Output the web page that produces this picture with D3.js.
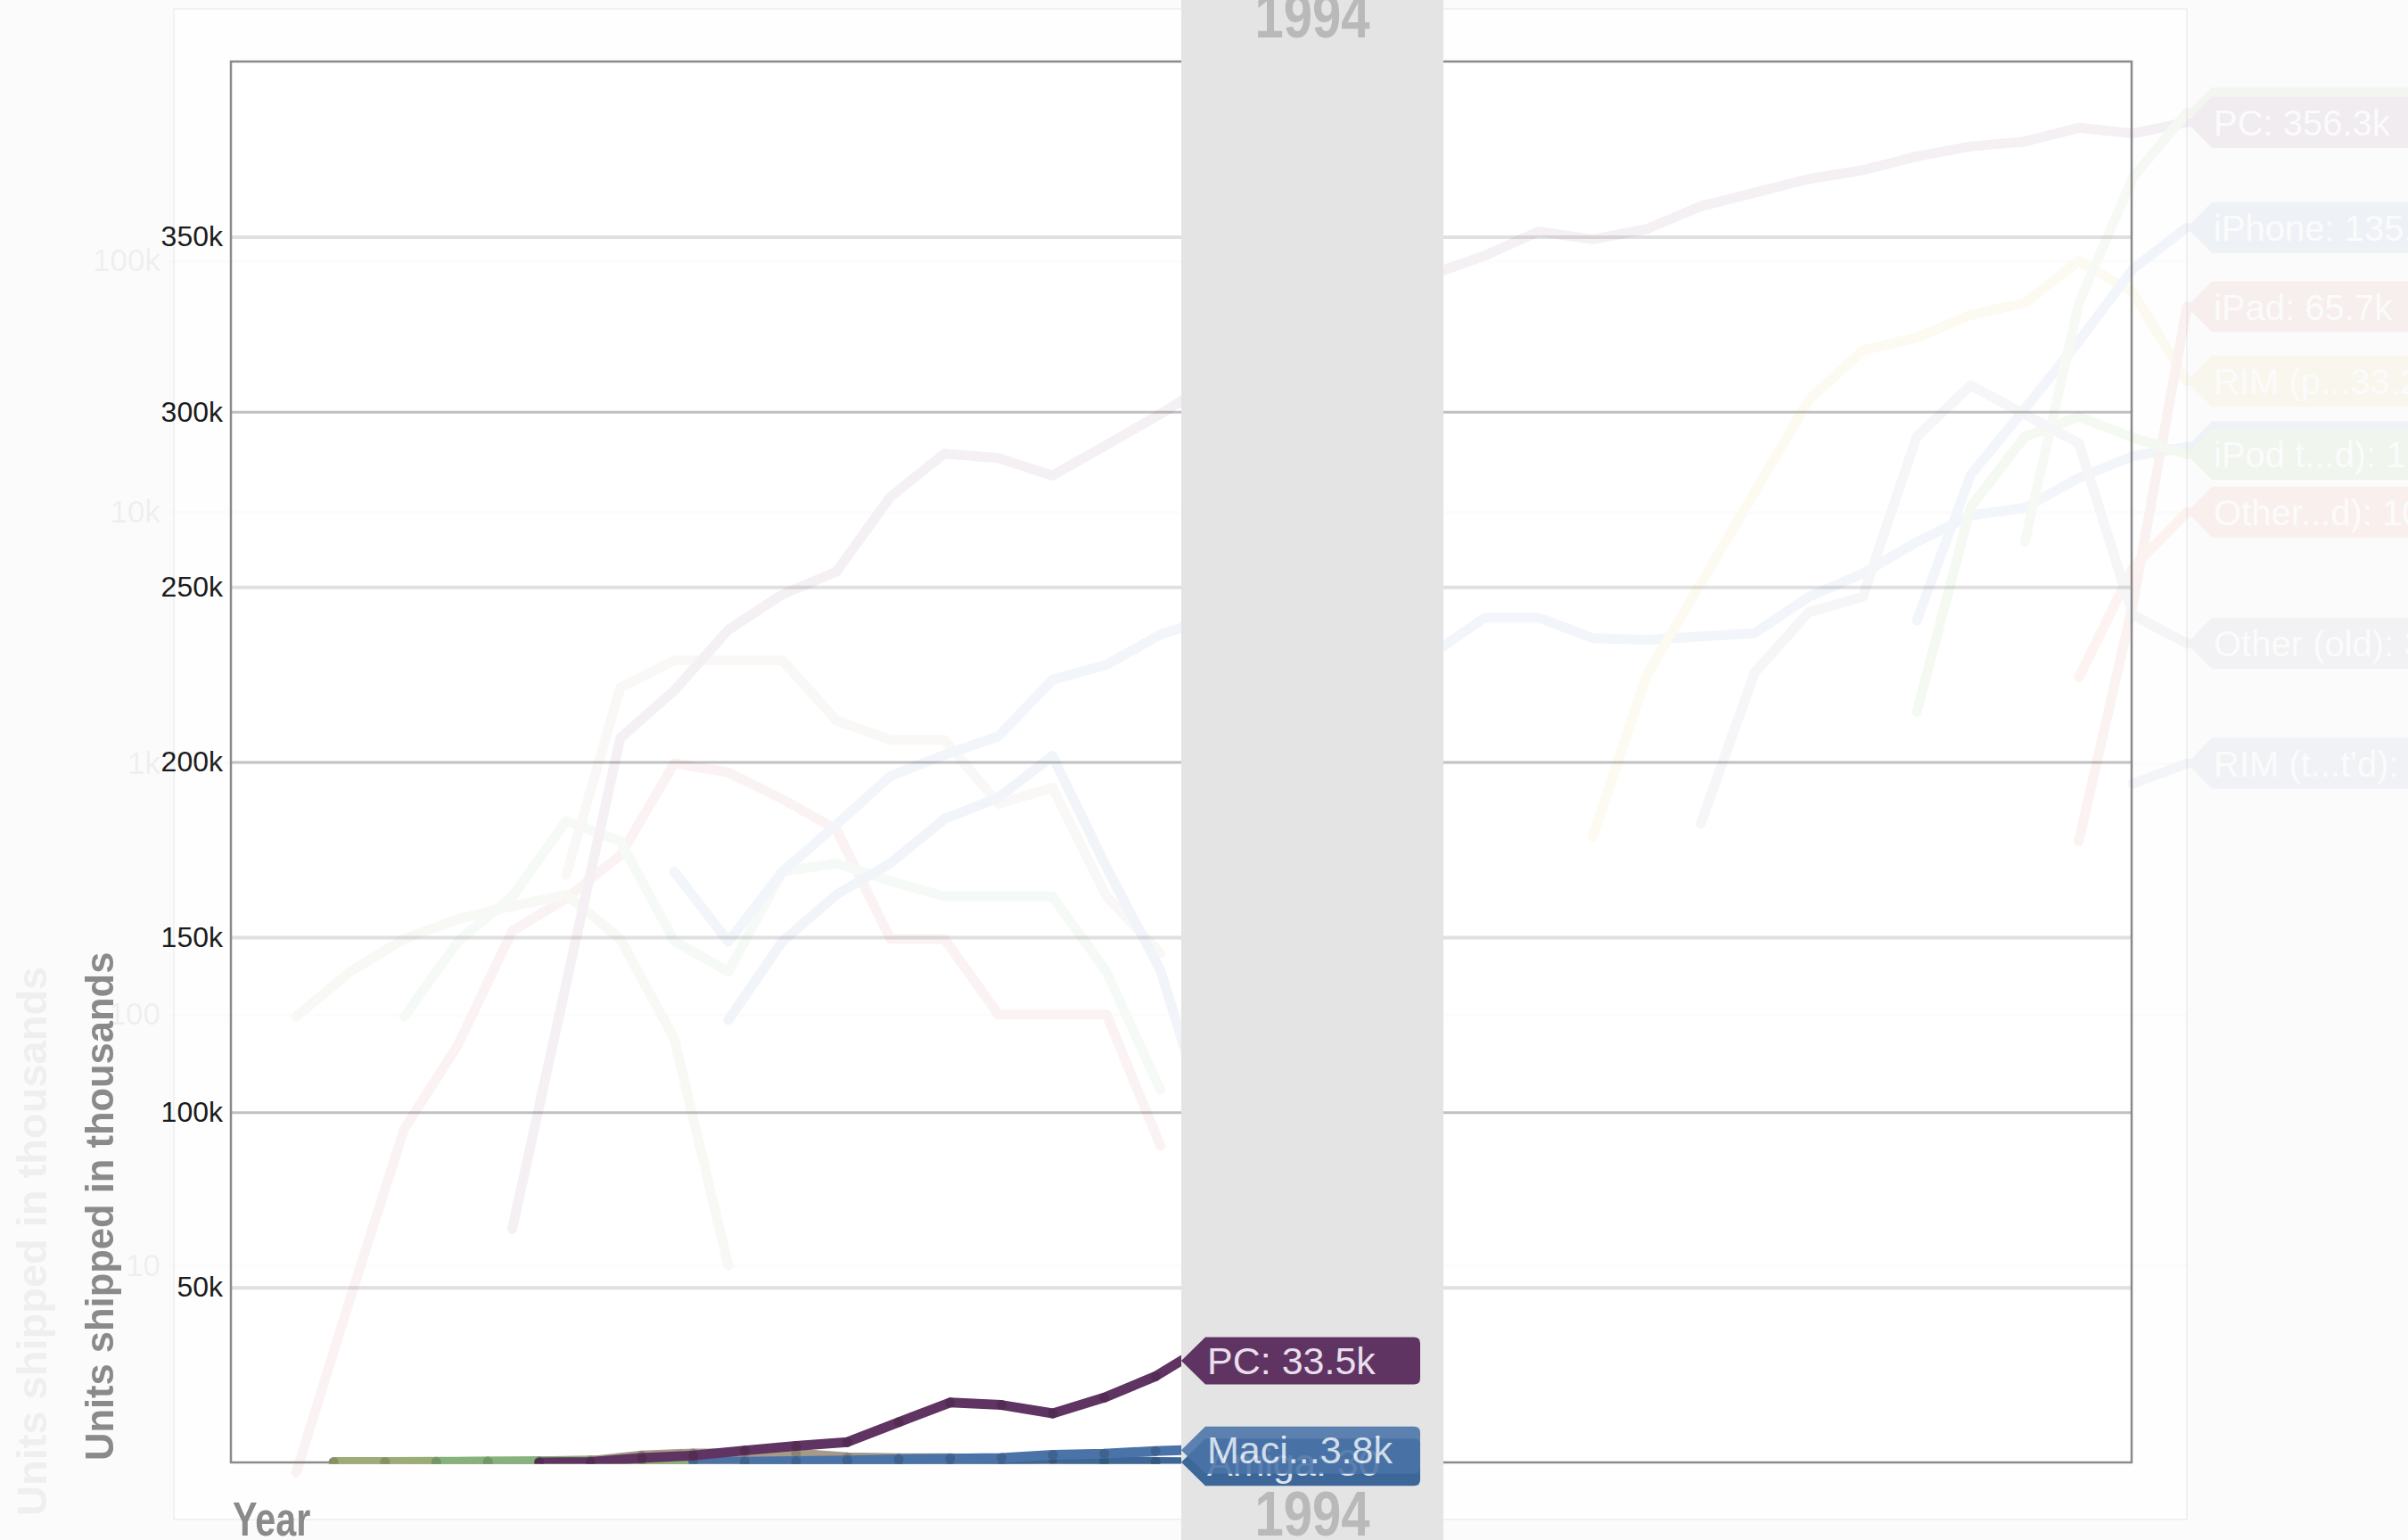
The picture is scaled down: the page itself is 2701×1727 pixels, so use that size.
<!DOCTYPE html>
<html>
<head>
<meta charset="utf-8">
<script src="https://cdn.jsdelivr.net/npm/d3@7"></script>
<style>
  html, body { margin: 0; padding: 0; background: #fbfbfb; }
  svg { display: block; }
  text { font-family: "Liberation Sans", Arial, Helvetica, sans-serif; }
</style>
</head>
<body>
<svg id="chart" width="2701" height="1727"></svg>
<script>
// ---------------- DATA (units shipped, thousands) ----------------
const years = [1975,1976,1977,1978,1979,1980,1981,1982,1983,1984,1985,1986,1987,1988,1989,1990,1991,1992,1993,1994,
               1995,1996,1997,1998,1999,2000,2001,2002,2003,2004,2005,2006,2007,2008,2009,2010,2011,2012];

const seriesNames = ["Apple II","TRS-80","Atari","Commodore 64","Amiga","Macintosh","PC",
                     "RIM (phones)","iPhone","iPad","iPod touch (est'd)","Android","Other (est'd)","Other (old)","RIM (tablets, est'd)"];
const startYears  = [1977,1977,1979,1982,1985,1984,1981,2001,2007,2010,2007,2009,2010,2003,2011];

const appleIIUnits   = [1.5, 7.4, 35, 76, 215, 290, 430, 1000, 920, 720, 545, 200, 200, 100, 100, 100, 30];
const trs80Units     = [98, 148, 200, 240, 270, 300, 200, 80, 10];
const atariUnits     = [98, 196, 295, 590, 490, 196, 148, 370, 400, 340, 295, 295, 295, 148, 50];
const c64Units       = [360, 2000, 2570, 2570, 2570, 1480, 1240, 1240, 690, 800, 295, 175];
const amigaUnits     = [95, 195, 300, 400, 600, 730, 1070, 385, 150, 30];
const macUnits       = [370, 195, 370, 570, 890, 1080, 1280, 2150, 2470, 3260, 3800, 4500, 4000, 2800, 2700,
                        3800, 3800, 3150, 3100, 3200, 3300, 4600, 5700, 7600, 9700, 10400, 13700, 16700, 18200];
const pcUnits        = [14, 133, 1260, 1950, 3400, 4700, 5800, 11500, 17100, 16400, 14000, 18500, 24600, 33500,
                        46000, 58000, 72000, 88000, 105000, 131000, 122000, 134000, 165000, 187000, 212000,
                        230000, 261000, 286000, 299000, 339000, 322000, 356300];
const rimPhoneUnits  = [510, 2240, 5200, 12000, 28000, 44000, 49500, 61000, 68000, 100000, 75000, 33200];
const iphoneUnits    = [3700, 14100, 25800, 48000, 93000, 135800];
const ipadUnits      = [490, 4300, 65700];
const ipodTouchUnits = [1600, 10500, 20000, 24000, 19800, 17000];
const androidUnits   = [7600, 68000, 215000, 390000];
const otherEstUnits  = [2200, 6000, 10000];
const otherOldUnits  = [575, 2300, 4000, 4600, 20000, 32000, 24500, 18800, 3900, 3000];
const rimTabletUnits = [830, 1000];

const mainTicks  = [50000, 100000, 150000, 200000, 250000, 300000, 350000];
const ghostTicks = [10, 100, 1000, 10000, 100000];
const currentYear = 1993.5;   // animation position of the frame
const labelYear = 1994;       // year shown in the band

// ---------------- STYLES ----------------
const seriesColors = ["#c45a55","#9aad77","#86b27d","#a69a88","#3d6699","#4a73a8","#603462",
                      "#e3b341","#4f7fb5","#c8504c","#5fa84f","#8cb86a","#d9604a","#7a6c88","#6b86ad"];
const mainOrder = ["Apple II","TRS-80","Atari","Commodore 64","Amiga","Macintosh","PC"];

const valueArrays = [appleIIUnits, trs80Units, atariUnits, c64Units, amigaUnits, macUnits, pcUnits,
                     rimPhoneUnits, iphoneUnits, ipadUnits, ipodTouchUnits, androidUnits, otherEstUnits, otherOldUnits, rimTabletUnits];

const series = seriesNames.map((name, i) => {
  const s0 = years.indexOf(startYears[i]);
  return {
    name, color: seriesColors[i],
    points: valueArrays[i].map((v, j) => ({ year: years[s0 + j], value: v }))
  };
});
const byName = new Map(series.map(s => [s.name, s]));
const valueAt = (s, yr) => { const p = s.points.find(d => d.year === yr); return p ? p.value : null; };
const fmt = d3.format(".4~s");

// ---------------- LAYOUT ----------------
const W = 2701, H = 1727;
const plot = { left: 259, right: 2391, top: 69, bottom: 1640 };
const svg = d3.select("#chart");

const xMain = d3.scaleLinear().domain([years[0], years[years.length - 1]]).range([plot.left, plot.right]);
const yMain = d3.scaleLinear().domain([0, 400000]).range([plot.bottom, plot.top]);

// ghost (previous, log-scale state of the animation, fading out)
const xGhost = d3.scaleLinear().domain([years[0], years[years.length - 1]]).range([211, 2453]);
const yGhost = d3.scaleLog().domain([1, 1e6]).range([1701, 11]);

svg.append("rect").attr("width", W).attr("height", H).attr("fill", "#fbfbfb");
svg.append("rect").attr("x", 195).attr("y", 10).attr("width", 2453 - 195).attr("height", 1704 - 10)
  .attr("fill", "#fefefe").attr("stroke", "#f1f1f1").attr("stroke-width", 2);
svg.append("rect").attr("x", plot.left).attr("y", plot.top)
  .attr("width", plot.right - plot.left).attr("height", plot.bottom - plot.top).attr("fill", "#ffffff");

// main gridlines + tick labels
const yAxis = svg.append("g").attr("transform", `translate(${plot.left},0)`)
  .call(d3.axisLeft(yMain).tickValues(mainTicks).tickFormat(d3.format("~s"))
        .tickSize(-(plot.right - plot.left)).tickPadding(9));
yAxis.select(".domain").remove();
yAxis.selectAll(".tick line")
  .attr("stroke", d => d % 100000 === 0 ? "#c0c0c0" : "#e0e0e0")
  .attr("stroke-width", d => d % 100000 === 0 ? 3 : 4);
yAxis.selectAll(".tick text").attr("font-size", 32).attr("fill", "#1c1c1c")
  .attr("font-family", "'Liberation Sans', Arial, sans-serif");

// ---------------- GHOST LAYER ----------------
const ghost = svg.append("g").attr("opacity", 0.072);
const gAxis = ghost.append("g").attr("transform", "translate(190,0)")
  .call(d3.axisLeft(yGhost).tickValues(ghostTicks).tickFormat(d3.format("~s"))
        .tickSize(-(2453 - 190)).tickPadding(10));
gAxis.select(".domain").remove();
gAxis.selectAll(".tick line").attr("stroke", "#cfcfcf").attr("stroke-width", 3);
gAxis.selectAll(".tick text").attr("font-size", 35).attr("fill", "#555")
  .attr("font-family", "'Liberation Sans', Arial, sans-serif");
ghost.append("text").attr("transform", "translate(52,1700) rotate(-90)")
  .attr("font-size", 47).attr("font-weight", "bold").attr("fill", "#555")
  .text("Units shipped in thousands");

const ghostLine = d3.line().x(d => xGhost(d.year)).y(d => yGhost(d.value));
ghost.selectAll("path.gl").data(series).join("path").attr("class", "gl")
  .attr("d", s => ghostLine(s.points))
  .attr("fill", "none").attr("stroke", s => s.color).attr("stroke-width", 11)
  .attr("stroke-linejoin", "round").attr("stroke-linecap", "round");

function labelPath(x0, y, aw, bw, h, r) {
  const t = y - h / 2, b = y + h / 2, xb = x0 + aw, xr = xb + bw;
  return `M${x0},${y}L${xb},${t}L${xr - r},${t}Q${xr},${t} ${xr},${t + r}L${xr},${b - r}Q${xr},${b} ${xr - r},${b}L${xb},${b}Z`;
}
// balanced middle-ellipsis so the label fits its box
function fitText(textSel, full, maxW) {
  textSel.text(full);
  if (textSel.node().getComputedTextLength() <= maxW) return;
  const w = s => { textSel.text(s); return textSel.node().getComputedTextLength(); };
  const mid = Math.floor(full.length / 2);
  let head = full.slice(0, mid), tail = full.slice(mid);
  const tidy = () => { head = head.replace(/\s+$/, ""); tail = tail.replace(/^\s+/, ""); };
  tidy();
  while (head.length + tail.length > 1) {
    if (w(head + "..." + tail) <= maxW) break;
    if (w(head) > w(tail)) head = head.slice(0, -1); else tail = tail.slice(1);
    tidy();
  }
  textSel.text(head + "..." + tail);
}
const lastYear = years[years.length - 1];
const ghostLabelled = series.filter(s => valueAt(s, lastYear) !== null);
const ghostOrder = ["Android","RIM (tablets, est'd)","Other (old)","Macintosh","Other (est'd)","iPod touch (est'd)","RIM (phones)","iPad","iPhone","PC"];
ghostOrder.map(n => byName.get(n)).filter(s => ghostLabelled.includes(s)).forEach(s => {
  const y = yGhost(valueAt(s, lastYear));
  const g = ghost.append("g");
  g.append("path").attr("d", labelPath(xGhost(lastYear), y, 28, 320, 57, 7)).attr("fill", s.color);
  const t = g.append("text").attr("x", xGhost(lastYear) + 30).attr("y", y + 14.5)
    .attr("font-size", 40).attr("fill", "#ffffff");
  fitText(t, `${s.name}: ${fmt(valueAt(s, lastYear))}`, 270);
});

// ---------------- MAIN LINES ----------------
svg.append("clipPath").attr("id", "clipMain").append("rect")
  .attr("x", plot.left).attr("y", plot.top - 10)
  .attr("width", xMain(currentYear) - plot.left).attr("height", plot.bottom + 1.5 - (plot.top - 10));

svg.append("rect").attr("x", plot.left).attr("y", plot.top)
  .attr("width", plot.right - plot.left).attr("height", plot.bottom - plot.top)
  .attr("fill", "none").attr("stroke", "#8a8a8a").attr("stroke-width", 2.5);

const mainLine = d3.line().x(d => xMain(d.year)).y(d => yMain(d.value));
const mainG = svg.append("g").attr("clip-path", "url(#clipMain)");
mainOrder.map(n => byName.get(n)).forEach(s => {
  mainG.append("path").attr("d", mainLine(s.points))
    .attr("fill", "none").attr("stroke", s.color).attr("stroke-width", 11)
    .attr("stroke-linejoin", "round");
  mainG.selectAll(null).data(s.points.filter(d => d.year <= currentYear)).join("circle")
    .attr("cx", d => xMain(d.year)).attr("cy", d => yMain(d.value)).attr("r", 5.5)
    .attr("fill", d3.color(s.color).darker(0.45));
});

// ---------------- YEAR BAND ----------------
const bandW = 294;
svg.append("rect").attr("x", xMain(currentYear)).attr("y", 0)
  .attr("width", bandW).attr("height", H).attr("fill", "#e4e4e4");
const bandCx = xMain(currentYear) + bandW / 2;
[42, 1722].forEach(by => {
  svg.append("text").attr("transform", `translate(${bandCx},${by}) scale(0.83,1)`)
    .attr("text-anchor", "middle").attr("font-size", 70).attr("font-weight", "bold")
    .attr("fill", "#b9b9b9").text(labelYear);
});

// ---------------- VALUE LABELS ----------------
const labelStyles = { "Amiga": { opacity: 1, text: "#dbe3ef" }, "Macintosh": { opacity: 0.88, text: "#e6edf6" }, "PC": { opacity: 1, text: "#e8dfec" } };
["Amiga", "Macintosh", "PC"].map(n => byName.get(n)).forEach(s => {
  const v0 = valueAt(s, Math.floor(currentYear)), v1 = valueAt(s, labelYear);
  const y = yMain(d3.interpolateNumber(v0, v1)(currentYear - Math.floor(currentYear)));
  const x0 = xMain(currentYear);
  const g = svg.append("g").attr("opacity", labelStyles[s.name].opacity);
  g.append("path").attr("d", labelPath(x0, y, 27, 241, 53, 7)).attr("fill", s.color);
  const t = g.append("text").attr("x", x0 + 29).attr("y", y + 15)
    .attr("font-size", 43).attr("fill", labelStyles[s.name].text);
  fitText(t, `${s.name}: ${fmt(v1)}`, 215);
});

// ---------------- AXIS TITLES ----------------
svg.append("text").attr("transform", `translate(127,${plot.bottom - 2}) rotate(-90)`)
  .attr("font-size", 43.5).attr("font-weight", "bold").attr("fill", "#8a8a8a")
  .text("Units shipped in thousands");
svg.append("text").attr("transform", `translate(${plot.left + 2},1722) scale(0.78,1)`)
  .attr("font-size", 53).attr("font-weight", "bold").attr("fill", "#8a8a8a").text("Year");
</script>
</body>
</html>
